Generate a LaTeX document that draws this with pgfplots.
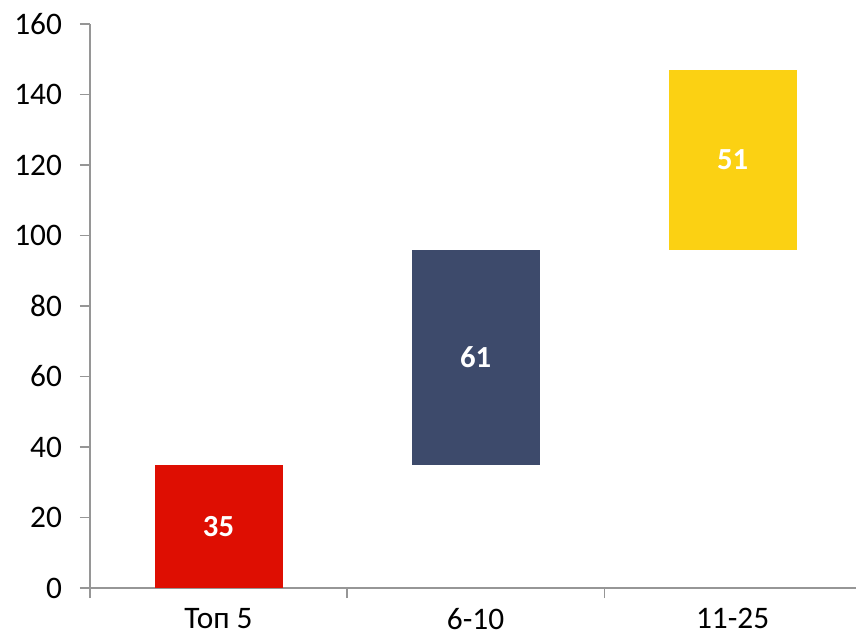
\documentclass[border=0pt]{standalone}
\usepackage{fontspec}
\setmainfont{Carlito}
\usepackage{pgfplots}
\pgfplotsset{compat=1.18}
\usepackage{pgfplotstable}

\definecolor{barred}{RGB}{222,14,2}
\definecolor{barnavy}{RGB}{61,74,107}
\definecolor{baryellow}{RGB}{251,209,19}
\definecolor{axgray}{RGB}{150,150,150}

% x, invisible base, visible step
\pgfplotstableread{
x base val
0 0  35
1 35 61
2 96 51
}\steps

\begin{document}
\begin{tikzpicture}
\begin{axis}[
    name=ax,
    scale only axis,
    width=574.5pt, height=423pt,
    xmin=-0.5, xmax=2.48,
    ymin=0, ymax=160,
    axis x line=bottom, axis y line=left,
    axis line style={-, draw=axgray, line width=0.9pt},
    ytick={0,20,...,160},
    xtick={-0.5,0.5,1.5},
    xticklabels={,,},
    extra x ticks={0,1,2},
    extra x tick labels={Топ 5,6-10,11-25},
    extra x tick style={major tick length=0pt,
        xticklabel style={yshift=-15pt, inner sep=0pt}},
    tick align=outside,
    major tick length=7.5pt,
    tick style={draw=axgray, line width=0.9pt},
    ticklabel style={font=\fontsize{23.5}{27}\selectfont, text=black},
    yticklabel style={xshift=-10pt},
    /pgf/number format/assume math mode=true,
    ybar stacked,
    bar width=96pt,
    clip=false,
]
\addplot[draw=none, fill=none, forget plot] table[x=x, y=base] {\steps};
\addplot[draw=none, fill=barred] coordinates {(0,35) (1,0) (2,0)};
\addplot[draw=none, fill=barnavy] coordinates {(0,0) (1,61) (2,0)};
\addplot[draw=none, fill=baryellow] coordinates {(0,0) (1,0) (2,51)};
\end{axis}
\begin{axis}[
    scale only axis,
    width=574.5pt, height=423pt,
    at={(ax.south west)}, anchor=south west,
    xmin=-0.5, xmax=2.48,
    ymin=0, ymax=160,
    axis lines=none,
    clip=false,
    /pgf/number format/assume math mode=true,
]
\addplot[only marks, mark=none,
    nodes near coords,
    point meta=explicit,
    nodes near coords style={anchor=center, text=white,
        font=\fontsize{23}{27}\selectfont\bfseries},
] table[x=x, y expr=\thisrow{base}+0.5*\thisrow{val}, meta=val] {\steps};
\end{axis}
\pgfresetboundingbox
\path[use as bounding box]
    ([xshift=-67.5pt, yshift=-41.25pt]ax.south west)
    rectangle ([yshift=18pt]ax.north east);
\end{tikzpicture}
\end{document}
